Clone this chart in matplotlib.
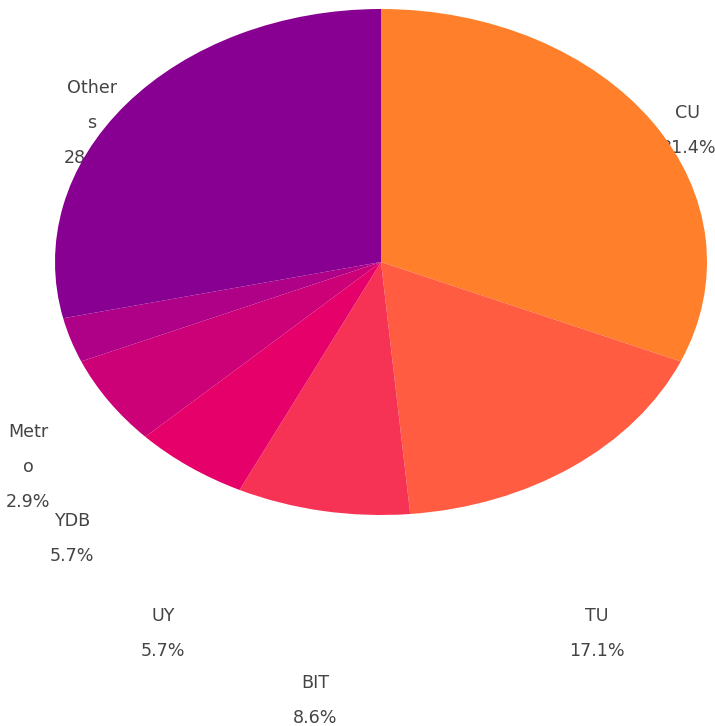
import matplotlib
matplotlib.use("Agg")
import matplotlib.pyplot as plt
import numpy as np

# Data
categories = ["CU", "TU", "BIT", "UY", "YDB", "Metro", "Others"]
counts = [11, 6, 3, 2, 2, 1, 10]
colors = ["#FF7F2A", "#FF5C42", "#F73355", "#E6006A", "#CC0077", "#AF0088", "#880091"]
# wrapped label text as shown in the chart
label_lines = [["CU"], ["TU"], ["BIT"], ["UY"], ["YDB"], ["Metr", "o"], ["Other", "s"]]
# label anchor (pixel x center, pixel y of first line) -- layout only
label_pos = [(688, 113), (597, 616), (315, 683), (163, 616), (72, 521), (28, 432), (92, 88)]

W, H = 715, 726
fig = plt.figure(figsize=(W / 100, H / 100), dpi=100)
left, right, top, bottom = 55, 707, 9, 515
ax = fig.add_axes([left / W, 1 - bottom / H, (right - left) / W, (bottom - top) / H])

wedges, _ = ax.pie(counts, colors=colors, startangle=90, counterclock=False,
                   wedgeprops=dict(linewidth=0))
ax.set_aspect("auto")
ax.set_xlim(-1, 1)
ax.set_ylim(-1, 1)
ax.axis("off")

total = sum(counts)
font = dict(family=["DejaVu Sans"], fontsize=12.6, color="#444444")
for lines, (x, y), c in zip(label_lines, label_pos, counts):
    pct = f"{100 * c / total:.1f}%"
    all_lines = lines + [pct]
    for i, t in enumerate(all_lines):
        fig.text(x / W, 1 - (y + i * 35) / H, t, ha="center", va="center",
                 zorder=-1, **font)

fig.savefig("out.png", dpi=100)
